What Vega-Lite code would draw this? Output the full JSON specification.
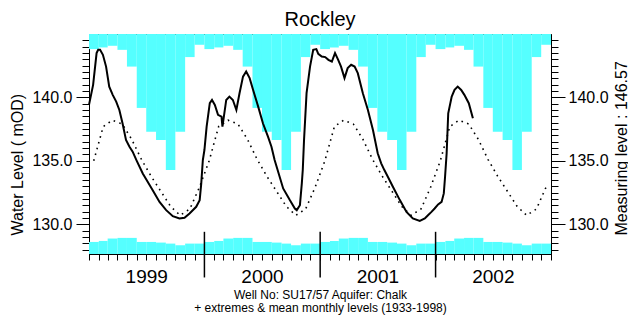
{
  "$schema": "https://vega.github.io/schema/vega-lite/v6.json",
  "width": 462,
  "height": 220,
  "autosize": "none",
  "padding": {"left": 89, "top": 34, "right": 77, "bottom": 63},
  "background": "white",
  "title": {"text": "Rockley", "fontSize": 20, "fontWeight": "normal", "font": "Liberation Sans", "color": "black", "anchor": "middle", "baseline": "alphabetic", "offset": 9, "dy": 23, "frame": "group"},
  "config": {
    "font": "Liberation Sans",
    "view": {"stroke": "black", "strokeWidth": 1},
    "axis": {"domainColor": "black", "tickColor": "black", "labelColor": "black", "titleColor": "black", "labelFont": "Liberation Sans", "titleFont": "Liberation Sans", "titleFontWeight": "normal", "grid": false, "domainWidth": 1, "tickWidth": 1}
  },
  "datasets": {
    "monthly": [
      {"start": "1999-01-01", "end": "1999-02-01", "mid": "1999-01-16", "max": 143.81, "min": 128.60, "mean": 135.0},
      {"start": "1999-02-01", "end": "1999-03-01", "mid": "1999-02-15", "max": 143.94, "min": 128.68, "mean": 137.7},
      {"start": "1999-03-01", "end": "1999-04-01", "mid": "1999-03-16", "max": 144.07, "min": 128.87, "mean": 138.2},
      {"start": "1999-04-01", "end": "1999-05-01", "mid": "1999-04-16", "max": 143.75, "min": 128.92, "mean": 137.9},
      {"start": "1999-05-01", "end": "1999-06-01", "mid": "1999-05-16", "max": 142.43, "min": 128.92, "mean": 136.7},
      {"start": "1999-06-01", "end": "1999-07-01", "mid": "1999-06-16", "max": 139.17, "min": 128.60, "mean": 135.1},
      {"start": "1999-07-01", "end": "1999-08-01", "mid": "1999-07-16", "max": 137.30, "min": 128.60, "mean": 133.8},
      {"start": "1999-08-01", "end": "1999-09-01", "mid": "1999-08-16", "max": 136.64, "min": 128.55, "mean": 132.6},
      {"start": "1999-09-01", "end": "1999-10-01", "mid": "1999-09-16", "max": 134.27, "min": 128.47, "mean": 131.4},
      {"start": "1999-10-01", "end": "1999-11-01", "mid": "1999-10-16", "max": 137.30, "min": 128.34, "mean": 130.7},
      {"start": "1999-11-01", "end": "1999-12-01", "mid": "1999-11-16", "max": 143.18, "min": 128.47, "mean": 131.2},
      {"start": "1999-12-01", "end": "2000-01-01", "mid": "1999-12-16", "max": 144.15, "min": 128.47, "mean": 132.9},
      {"start": "2000-01-01", "end": "2000-02-01", "mid": "2000-01-16", "max": 143.81, "min": 128.60, "mean": 135.0},
      {"start": "2000-02-01", "end": "2000-03-01", "mid": "2000-02-15", "max": 143.94, "min": 128.68, "mean": 137.7},
      {"start": "2000-03-01", "end": "2000-04-01", "mid": "2000-03-16", "max": 144.07, "min": 128.87, "mean": 138.2},
      {"start": "2000-04-01", "end": "2000-05-01", "mid": "2000-04-16", "max": 143.75, "min": 128.92, "mean": 137.9},
      {"start": "2000-05-01", "end": "2000-06-01", "mid": "2000-05-16", "max": 142.43, "min": 128.92, "mean": 136.7},
      {"start": "2000-06-01", "end": "2000-07-01", "mid": "2000-06-16", "max": 139.17, "min": 128.60, "mean": 135.1},
      {"start": "2000-07-01", "end": "2000-08-01", "mid": "2000-07-16", "max": 137.30, "min": 128.60, "mean": 133.8},
      {"start": "2000-08-01", "end": "2000-09-01", "mid": "2000-08-16", "max": 136.64, "min": 128.55, "mean": 132.6},
      {"start": "2000-09-01", "end": "2000-10-01", "mid": "2000-09-16", "max": 134.27, "min": 128.47, "mean": 131.4},
      {"start": "2000-10-01", "end": "2000-11-01", "mid": "2000-10-16", "max": 137.30, "min": 128.34, "mean": 130.7},
      {"start": "2000-11-01", "end": "2000-12-01", "mid": "2000-11-16", "max": 143.18, "min": 128.47, "mean": 131.2},
      {"start": "2000-12-01", "end": "2001-01-01", "mid": "2000-12-16", "max": 144.15, "min": 128.47, "mean": 132.9},
      {"start": "2001-01-01", "end": "2001-02-01", "mid": "2001-01-16", "max": 143.81, "min": 128.60, "mean": 135.0},
      {"start": "2001-02-01", "end": "2001-03-01", "mid": "2001-02-15", "max": 143.94, "min": 128.68, "mean": 137.7},
      {"start": "2001-03-01", "end": "2001-04-01", "mid": "2001-03-16", "max": 144.07, "min": 128.87, "mean": 138.2},
      {"start": "2001-04-01", "end": "2001-05-01", "mid": "2001-04-16", "max": 143.75, "min": 128.92, "mean": 137.9},
      {"start": "2001-05-01", "end": "2001-06-01", "mid": "2001-05-16", "max": 142.43, "min": 128.92, "mean": 136.7},
      {"start": "2001-06-01", "end": "2001-07-01", "mid": "2001-06-16", "max": 139.17, "min": 128.60, "mean": 135.1},
      {"start": "2001-07-01", "end": "2001-08-01", "mid": "2001-07-16", "max": 137.30, "min": 128.60, "mean": 133.8},
      {"start": "2001-08-01", "end": "2001-09-01", "mid": "2001-08-16", "max": 136.64, "min": 128.55, "mean": 132.6},
      {"start": "2001-09-01", "end": "2001-10-01", "mid": "2001-09-16", "max": 134.27, "min": 128.47, "mean": 131.4},
      {"start": "2001-10-01", "end": "2001-11-01", "mid": "2001-10-16", "max": 137.30, "min": 128.34, "mean": 130.7},
      {"start": "2001-11-01", "end": "2001-12-01", "mid": "2001-11-16", "max": 143.18, "min": 128.47, "mean": 131.2},
      {"start": "2001-12-01", "end": "2002-01-01", "mid": "2001-12-16", "max": 144.15, "min": 128.47, "mean": 132.9},
      {"start": "2002-01-01", "end": "2002-02-01", "mid": "2002-01-16", "max": 143.81, "min": 128.60, "mean": 135.0},
      {"start": "2002-02-01", "end": "2002-03-01", "mid": "2002-02-15", "max": 143.94, "min": 128.68, "mean": 137.7},
      {"start": "2002-03-01", "end": "2002-04-01", "mid": "2002-03-16", "max": 144.07, "min": 128.87, "mean": 138.2},
      {"start": "2002-04-01", "end": "2002-05-01", "mid": "2002-04-16", "max": 143.75, "min": 128.92, "mean": 137.9},
      {"start": "2002-05-01", "end": "2002-06-01", "mid": "2002-05-16", "max": 142.43, "min": 128.92, "mean": 136.7},
      {"start": "2002-06-01", "end": "2002-07-01", "mid": "2002-06-16", "max": 139.17, "min": 128.60, "mean": 135.1},
      {"start": "2002-07-01", "end": "2002-08-01", "mid": "2002-07-16", "max": 137.30, "min": 128.60, "mean": 133.8},
      {"start": "2002-08-01", "end": "2002-09-01", "mid": "2002-08-16", "max": 136.64, "min": 128.55, "mean": 132.6},
      {"start": "2002-09-01", "end": "2002-10-01", "mid": "2002-09-16", "max": 134.27, "min": 128.47, "mean": 131.4},
      {"start": "2002-10-01", "end": "2002-11-01", "mid": "2002-10-16", "max": 137.30, "min": 128.34, "mean": 130.7},
      {"start": "2002-11-01", "end": "2002-12-01", "mid": "2002-11-16", "max": 143.18, "min": 128.47, "mean": 131.2},
      {"start": "2002-12-01", "end": "2003-01-01", "mid": "2002-12-16", "max": 144.15, "min": 128.47, "mean": 132.9}
    ],
    "levels": [
      {"date": "1999-01-01", "level": 139.41}, {"date": "1999-01-14", "level": 140.99}, {"date": "1999-01-25", "level": 143.49},
      {"date": "1999-01-30", "level": 143.75}, {"date": "1999-02-05", "level": 143.75}, {"date": "1999-02-14", "level": 143.36},
      {"date": "1999-02-24", "level": 142.43}, {"date": "1999-03-06", "level": 140.85}, {"date": "1999-03-17", "level": 140.2},
      {"date": "1999-03-28", "level": 139.67}, {"date": "1999-04-07", "level": 139.01}, {"date": "1999-04-17", "level": 137.96},
      {"date": "1999-04-28", "level": 136.64}, {"date": "1999-05-09", "level": 136.11}, {"date": "1999-05-19", "level": 135.72},
      {"date": "1999-06-01", "level": 135.0}, {"date": "1999-06-20", "level": 134.0}, {"date": "1999-07-21", "level": 132.69},
      {"date": "1999-08-12", "level": 131.76}, {"date": "1999-09-02", "level": 131.11}, {"date": "1999-09-23", "level": 130.63},
      {"date": "1999-10-14", "level": 130.45}, {"date": "1999-10-30", "level": 130.5}, {"date": "1999-11-15", "level": 130.85},
      {"date": "1999-12-06", "level": 131.37}, {"date": "1999-12-17", "level": 131.9}, {"date": "1999-12-22", "level": 133.22},
      {"date": "1999-12-27", "level": 135.06}, {"date": "2000-01-01", "level": 135.85}, {"date": "2000-01-08", "level": 137.69},
      {"date": "2000-01-18", "level": 139.54}, {"date": "2000-01-25", "level": 139.8}, {"date": "2000-02-03", "level": 139.41},
      {"date": "2000-02-13", "level": 138.62}, {"date": "2000-02-24", "level": 138.48}, {"date": "2000-02-27", "level": 137.69},
      {"date": "2000-03-10", "level": 139.8}, {"date": "2000-03-20", "level": 140.06}, {"date": "2000-03-31", "level": 139.8},
      {"date": "2000-04-11", "level": 139.01}, {"date": "2000-04-21", "level": 140.33}, {"date": "2000-05-02", "level": 141.64},
      {"date": "2000-05-12", "level": 142.04}, {"date": "2000-05-23", "level": 141.52}, {"date": "2000-06-03", "level": 140.59},
      {"date": "2000-06-19", "level": 139.27}, {"date": "2000-07-04", "level": 137.96}, {"date": "2000-07-20", "level": 136.9},
      {"date": "2000-07-31", "level": 136.11}, {"date": "2000-08-10", "level": 135.06}, {"date": "2000-09-06", "level": 132.82},
      {"date": "2000-09-27", "level": 131.9}, {"date": "2000-10-13", "level": 131.24}, {"date": "2000-10-19", "level": 131.11},
      {"date": "2000-10-29", "level": 131.5}, {"date": "2000-11-04", "level": 133.22}, {"date": "2000-11-07", "level": 134.27},
      {"date": "2000-11-11", "level": 136.64}, {"date": "2000-11-19", "level": 140.33}, {"date": "2000-11-30", "level": 142.43},
      {"date": "2000-12-10", "level": 143.75}, {"date": "2000-12-20", "level": 143.81}, {"date": "2000-12-26", "level": 143.44},
      {"date": "2001-01-06", "level": 143.23}, {"date": "2001-01-17", "level": 143.18}, {"date": "2001-01-27", "level": 142.96},
      {"date": "2001-02-07", "level": 142.83}, {"date": "2001-02-17", "level": 143.49}, {"date": "2001-02-27", "level": 142.96},
      {"date": "2001-03-08", "level": 142.43}, {"date": "2001-03-19", "level": 141.52}, {"date": "2001-03-29", "level": 142.31},
      {"date": "2001-04-09", "level": 142.57}, {"date": "2001-04-20", "level": 142.43}, {"date": "2001-04-30", "level": 141.91},
      {"date": "2001-05-16", "level": 140.33}, {"date": "2001-06-01", "level": 139.01}, {"date": "2001-06-17", "level": 137.43},
      {"date": "2001-07-02", "level": 135.59}, {"date": "2001-07-13", "level": 134.8}, {"date": "2001-07-23", "level": 134.27},
      {"date": "2001-08-03", "level": 133.74}, {"date": "2001-08-19", "level": 132.95}, {"date": "2001-09-10", "level": 131.9},
      {"date": "2001-10-01", "level": 130.97}, {"date": "2001-10-21", "level": 130.45}, {"date": "2001-11-12", "level": 130.26},
      {"date": "2001-11-28", "level": 130.45}, {"date": "2001-12-08", "level": 130.71}, {"date": "2001-12-19", "level": 130.97},
      {"date": "2001-12-29", "level": 131.24}, {"date": "2002-01-09", "level": 131.56}, {"date": "2002-01-20", "level": 131.76},
      {"date": "2002-01-27", "level": 132.43}, {"date": "2002-01-31", "level": 133.74}, {"date": "2002-02-05", "level": 135.59},
      {"date": "2002-02-10", "level": 138.75}, {"date": "2002-02-21", "level": 140.06}, {"date": "2002-03-02", "level": 140.59},
      {"date": "2002-03-12", "level": 140.85}, {"date": "2002-03-23", "level": 140.59}, {"date": "2002-04-02", "level": 140.2},
      {"date": "2002-04-16", "level": 139.54}, {"date": "2002-04-29", "level": 138.36}
    ],
    "years": [{"d": "2000-01-01"}, {"d": "2001-01-01"}, {"d": "2002-01-01"}]
  },
  "resolve": {"axis": {"y": "independent"}},
  "layer": [
    {
      "data": {"name": "monthly"},
      "mark": {"type": "rect", "color": "#55ffff", "strokeWidth": 0},
      "encoding": {
        "x": {
          "field": "start", "type": "temporal",
          "scale": {"type": "utc", "domain": [{"year": 1999, "month": 1, "date": 1, "utc": true}, {"year": 2003, "month": 1, "date": 1, "utc": true}]},
          "axis": {
            "tickCount": {"interval": "month", "step": 1},
            "tickSize": 6,
            "labelExpr": "utcFormat(datum.value, '%m') == '07' ? utcFormat(datum.value, '%Y') : ''",
            "labelFontSize": 19, "labelPadding": 7, "labelOverlap": false, "labelFlush": false, "labelBound": false,
            "title": ["Well No: SU17/57  Aquifer: Chalk", "+ extremes & mean monthly levels (1933-1998)"],
            "titleFontSize": 12, "titleLineHeight": 13, "titleBaseline": "alphabetic", "titleY": 44
          }
        },
        "x2": {"field": "end"},
        "y": {
          "field": "max", "type": "quantitative",
          "scale": {"domain": [127.65, 145], "nice": false, "zero": false},
          "axis": {
            "orient": "left",
            "values": [128, 128.5, 129, 129.5, 130, 130.5, 131, 131.5, 132, 132.5, 133, 133.5, 134, 134.5, 135, 135.5, 136, 136.5, 137, 137.5, 138, 138.5, 139, 139.5, 140, 140.5, 141, 141.5, 142, 142.5, 143, 143.5, 144, 144.5],
            "tickSize": {"condition": {"test": "datum.value % 5 === 0", "value": 13}, "value": 7},
            "labelExpr": "datum.value % 5 === 0 ? format(datum.value, '.1f') : ''",
            "labelFontSize": 16, "labelPadding": 4, "labelOverlap": false, "labelFlush": false,
            "title": "Water Level ( mOD)", "titleFontSize": 16, "titleAngle": 270, "titleAlign": "left", "titleBaseline": "alphabetic", "titleX": -67, "titleY": 201
          }
        },
        "y2": {"datum": 145}
      }
    },
    {
      "data": {"name": "monthly"},
      "mark": {"type": "rect", "color": "#55ffff", "strokeWidth": 0},
      "encoding": {
        "x": {"field": "start", "type": "temporal"},
        "x2": {"field": "end"},
        "y": {"field": "min", "type": "quantitative", "axis": null},
        "y2": {"datum": 127.65}
      }
    },
    {
      "data": {"name": "monthly"},
      "mark": {"type": "line", "color": "black", "strokeWidth": 1.6, "strokeDash": [1.6, 4.4]},
      "encoding": {
        "x": {"field": "mid", "type": "temporal"},
        "y": {"field": "mean", "type": "quantitative", "axis": null}
      }
    },
    {
      "data": {"name": "levels"},
      "mark": {"type": "line", "color": "black", "strokeWidth": 2},
      "encoding": {
        "x": {"field": "date", "type": "temporal"},
        "y": {"field": "level", "type": "quantitative", "axis": null}
      }
    },
    {
      "data": {"name": "years"},
      "mark": {"type": "rule", "color": "black", "strokeWidth": 1.5, "clip": false},
      "encoding": {
        "x": {"field": "d", "type": "temporal"},
        "y": {
          "datum": 129.4, "type": "quantitative",
          "axis": {
            "orient": "right",
            "values": [128, 128.5, 129, 129.5, 130, 130.5, 131, 131.5, 132, 132.5, 133, 133.5, 134, 134.5, 135, 135.5, 136, 136.5, 137, 137.5, 138, 138.5, 139, 139.5, 140, 140.5, 141, 141.5, 142, 142.5, 143, 143.5, 144, 144.5],
            "tickSize": {"condition": {"test": "datum.value % 5 === 0", "value": 14}, "value": 7},
            "labelExpr": "datum.value % 5 === 0 ? format(datum.value, '.1f') : ''",
            "labelFontSize": 16, "labelPadding": 3, "labelOverlap": false, "labelFlush": false,
            "title": "Measuring level : 146.57", "titleFontSize": 16, "titleAngle": 270, "titleAlign": "left", "titleBaseline": "alphabetic", "titleX": 75, "titleY": 201
          }
        },
        "y2": {"datum": 125.8}
      }
    }
  ]
}
